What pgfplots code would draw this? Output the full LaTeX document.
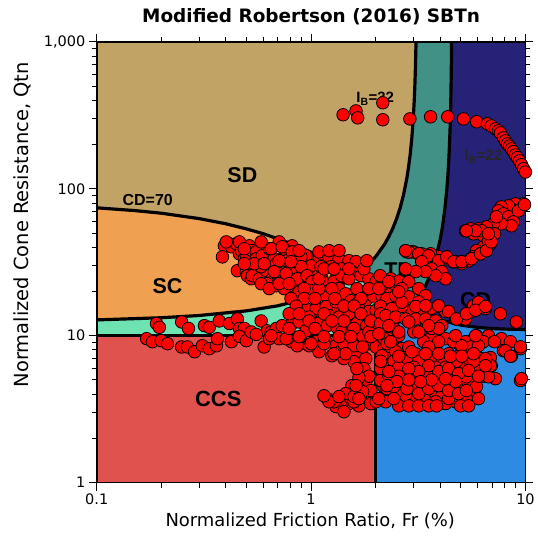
\documentclass[border=0pt]{standalone}
\usepackage{pgfplots}
\pgfplotsset{compat=1.18}
\usepackage{fontspec}
\setmainfont{DejaVu Sans}
\newfontfamily\labfont{Liberation Sans}
\definecolor{cSD}{RGB}{194,163,102}
\definecolor{cSC}{RGB}{239,160,80}
\definecolor{cTD}{RGB}{66,145,135}
\definecolor{cTC}{RGB}{110,226,176}
\definecolor{cCD}{RGB}{38,34,120}
\definecolor{cCC}{RGB}{45,140,225}
\definecolor{cCCS}{RGB}{224,82,77}
\pgfplotstableread{
F Q
1.41 319
1.62 339
1.65 304
2.16 385
2.16 295
2.89 299
3.61 309
4.34 309
5.14 299
5.92 286
6.65 277
6.93 268
7.25 256
7.48 248
7.64 240
7.89 222
8.06 212
8.24 202
8.42 195
8.6 187
8.78 179
8.97 170
9.17 163
9.37 155
9.58 146
9.79 137
10.0 130
9.79 79
9.27 76.5
8.97 79
8.6 73.1
8.33 76.5
7.72 75.3
7.48 70.8
7.89 67.6
8.33 64.5
8.78 59.6
8.6 56.0
7.72 57.8
7.09 57.8
6.58 55.1
6.04 53.4
5.55 53.4
5.25 51.8
5.85 51.8
6.72 49.4
5.72 49.4
6.37 47.9
6.93 45.7
6.93 43.5
6.86 42.2
6.37 40.2
6.58 37.9
5.91 37.9
6.17 36.1
5.72 34.5
5.6 33.4
5.43 32.3
5.04 30.9
5.04 31.9
4.72 31.9
4.62 31.9
4.29 33.4
4.29 34.4
3.94 34.5
3.94 32.4
3.61 36.1
3.54 35.0
3.28 36.1
3.18 36.1
3.01 37.2
2.95 37.2
2.86 37.2
2.80 37.2
2.76 37.9
9.27 70.8
9.9 78
7.32 64.5
6.24 51.8
7.17 49.4
6.72 44.1
0.394 40.9
0.386 34.4
0.416 42.2
0.425 40.3
0.448 42.2
0.463 36.1
0.473 37.9
0.488 33.4
0.499 35.0
0.515 40.9
0.532 37.9
0.555 37.2
0.555 33.4
0.591 35.0
0.638 39.1
0.453 27.7
0.499 27.3
0.504 25.6
0.526 24.4
0.532 25.6
0.573 24.4
0.618 27.7
0.659 24.4
0.673 33.4
0.688 22.6
0.688 21.9
0.733 23.3
0.790 21.9
0.852 22.6
0.899 24.4
0.979 29.5
0.899 32.0
0.790 29.5
0.733 33.4
0.688 30.9
0.816 40.9
0.733 40.3
0.880 35.0
0.947 35.0
1.01 29.5
1.089 33.4
1.125 24.4
1.213 21.9
1.307 24.4
1.125 36.1
0.765 37.9
0.834 36.1
0.710 26.4
0.624 22.6
0.862 27.7
0.928 20.9
1.033 26.4
0.585 29.5
0.773 32.4
0.543 30.9
0.488 30.9
0.604 30.9
0.880 30.9
0.585 22.6
0.880 22.6
0.979 22.6
1.067 22.6
0.402 43.5
0.463 43.5
0.585 43.5
0.710 43.5
0.488 39.1
0.749 20.9
0.638 20.9
0.190 12.1
0.196 11.4
0.249 12.4
0.268 11.2
0.318 11.7
0.335 11.4
0.373 12.6
0.416 12.1
0.453 13.0
0.463 11.2
0.488 11.2
0.585 12.6
0.624 10.8
0.652 10.6
0.688 11.2
0.733 11.7
0.816 12.1
0.880 12.4
0.947 10.8
1.055 14.6
1.112 15.3
1.125 13.0
1.213 13.6
1.307 14.6
0.171 9.54
0.182 9.1
0.200 9.25
0.214 8.82
0.249 8.38
0.265 8.38
0.286 7.78
0.311 8.54
0.335 8.16
0.362 8.54
0.366 9.54
0.425 9.1
0.463 9.9
0.499 9.25
0.526 10.6
0.555 10.2
0.604 8.38
0.638 9.54
0.710 9.54
0.81 9.1
0.899 9.1
1.055 9.1
1.174 9.1
1.307 8.54
0.89 8.82
1.38 7.9
1.535 8.16
1.62 7.78
1.74 8.54
1.80 6.98
1.764 5.97
1.70 4.5
1.62 4.23
1.55 4.57
1.80 4.87
1.82 4.03
1.80 3.62
1.672 3.33
1.502 3.45
1.38 3.33
1.307 3.29
1.19 3.73
1.423 3.04
1.585 3.55
1.279 3.55
1.672 4.36
1.861 5.3
1.585 6.65
1.423 6.98
1.25 7.3
1.089 7.78
0.979 8.54
1.861 8.82
1.213 3.55
1.149 3.9
1.45 4.03
1.585 3.85
1.70 3.9
1.35 3.85
1.90 4.23
1.90 3.45
1.672 5.2
1.636 5.97
0.652 39.1
0.733 40.3
0.816 37.2
0.899 34.4
1.0 29.9
1.089 37.2
1.213 34.4
1.35 33.4
1.502 32.4
1.62 31.9
1.38 28.5
1.24 29.5
1.112 29.5
0.899 29.5
0.806 31.9
0.710 32.4
0.673 27.3
0.765 26.4
0.862 24.4
0.958 25.6
1.01 23.3
1.125 23.7
1.279 23.3
1.39 25.6
1.55 27.3
1.71 25.6
1.861 24.4
2.01 23.3
2.14 22.6
2.26 21.6
0.710 22.6
0.790 22.6
0.880 19.9
1.01 20.2
1.174 18.7
1.35 20.9
1.45 19.3
1.535 17.3
1.636 16.5
1.80 17.3
1.963 18.4
2.14 18.7
2.35 19.3
2.432 16.9
2.305 15.3
2.38 13.7
2.35 12.4
2.432 11.2
2.305 9.54
2.432 8.38
2.48 7.54
0.947 15.3
1.055 15.3
1.174 15.8
1.307 17.0
1.213 13.7
1.35 13.4
1.502 14.1
1.672 15.3
1.861 14.6
2.01 14.9
0.979 13.4
1.075 12.1
1.19 11.7
1.32 11.4
1.47 11.7
1.636 12.1
1.82 11.7
2.03 11.7
2.14 11.2
1.39 10.6
1.55 10.6
1.73 10.0
1.861 10.6
0.652 10.0
0.765 9.54
0.862 8.54
1.0 8.82
1.149 8.82
1.423 8.82
1.585 8.54
1.74 8.38
2.01 8.38
2.23 7.78
1.45 7.54
1.279 7.54
0.928 20.9
1.089 20.9
1.25 20.9
1.636 20.9
1.861 20.9
2.071 20.9
0.806 17.9
0.928 17.9
1.044 17.9
1.293 17.9
1.71 17.9
2.26 17.9
0.852 15.9
1.423 15.9
1.585 15.9
2.11 15.9
0.79 14.1
0.88 14.1
1.149 14.1
1.71 14.1
2.11 14.1
0.979 12.6
1.25 12.6
1.423 12.6
1.90 12.6
0.79 11.2
1.044 11.2
1.585 11.2
0.88 9.85
1.149 9.85
1.35 9.85
1.535 9.85
1.90 9.85
1.502 24.4
2.35 24.4
1.089 24.4
1.149 28.5
1.279 28.5
1.502 28.5
1.764 28.5
1.82 32.4
0.88 37.9
1.213 37.9
1.35 37.9
2.432 22.6
2.6 19.3
2.1 25.6
2.185 9.54
2.185 8.16
2.26 6.98
2.38 5.97
2.23 5.3
2.185 4.5
2.305 3.9
2.23 3.62
2.51 4.03
2.48 4.71
2.65 5.7
2.707 6.65
2.65 8.16
2.11 12.1
2.071 10.3
2.26 8.82
2.11 5.97
2.11 4.95
2.35 4.95
2.565 10.0
3.012 10.6
3.42 11.2
3.65 9.85
4.24 9.54
4.877 8.82
5.6 9.25
5.91 10.0
6.72 10.0
7.72 9.54
8.51 9.1
9.48 8.16
7.89 7.9
8.6 7.25
7.24 5.1
9.48 4.95
4.382 7.54
4.877 7.25
5.25 6.7
5.724 6.55
6.17 6.98
6.51 6.45
6.93 6.25
6.86 7.1
2.14 7.3
2.48 7.78
2.856 8.16
3.08 7.54
3.42 7.1
3.81 7.9
4.07 6.6
4.53 6.25
5.04 5.97
5.43 5.7
6.04 5.8
6.37 5.3
5.6 4.79
5.04 4.57
4.53 4.36
4.07 4.79
3.65 5.1
3.28 5.3
2.95 5.7
2.65 5.97
2.38 6.25
2.305 5.3
2.565 4.87
2.856 4.57
3.178 4.16
3.65 4.03
4.07 3.9
4.53 4.03
5.04 3.9
5.43 4.16
4.72 3.55
4.24 3.45
3.81 3.55
3.42 3.62
3.08 3.73
2.76 3.9
2.48 4.09
2.26 4.36
2.565 3.33
2.23 3.55
1.74 4.16
1.62 4.57
1.672 3.73
2.01 3.55
2.35 9.1
3.352 9.1
3.937 9.1
4.621 9.1
5.25 9.1
6.37 9.1
7.17 9.1
2.856 8.38
3.537 8.38
5.55 8.38
2.11 6.7
2.432 6.7
2.856 6.7
3.178 6.7
3.61 6.7
4.77 6.7
5.724 6.7
2.565 6.1
3.012 6.1
3.81 6.1
4.24 6.1
2.8 5.25
3.537 5.25
4.77 5.25
5.3 5.25
6.72 5.25
2.432 4.5
3.012 4.5
3.352 4.5
4.24 4.5
4.77 4.5
5.91 4.5
2.071 3.73
2.432 3.73
3.352 3.73
4.382 3.73
5.3 3.73
6.04 3.73
2.856 3.33
3.178 3.33
3.537 3.33
3.85 3.33
4.98 3.33
5.43 3.33
2.856 37.2
3.178 36.1
3.537 35.0
3.937 32.4
4.29 34.4
4.621 31.9
5.04 31.9
5.6 33.4
6.17 36.1
6.58 37.9
6.93 43.5
6.72 49.4
5.85 51.8
5.3 51.8
2.565 23.5
2.856 23.3
3.178 20.9
3.42 18.7
3.937 15.8
4.24 14.6
4.72 13.0
5.25 13.0
5.6 14.6
5.724 16.0
6.04 16.9
6.51 15.3
7.64 14.1
9.07 12.4
3.28 31.9
3.65 28.5
4.07 27.3
4.24 24.4
3.81 25.6
3.42 27.3
3.08 27.3
2.76 28.5
2.65 20.9
2.48 18.7
2.856 18.4
3.178 17.0
3.61 15.3
3.28 14.6
2.95 14.9
2.65 15.8
2.38 15.3
2.23 13.7
2.48 13.4
2.76 13.0
3.08 13.0
3.42 13.0
3.81 12.6
4.07 11.7
3.65 11.2
2.76 37.9
8.06 7.9
8.51 7.25
9.48 8.4
9.58 5.1
6.86 6.25
6.51 6.98
6.04 8.54
5.85 10.0
5.04 8.54
4.72 10.0
3.937 11.2
3.537 11.7
3.178 10.6
2.856 12.4
2.565 10.6
2.305 11.7
2.65 16.9
3.08 15.8
3.42 16.0
3.937 16.0
4.382 14.6
4.77 13.0
5.3 14.1
5.85 14.9
6.51 15.8
2.8 4.36
3.178 4.03
3.537 4.36
3.937 4.57
4.382 4.23
4.877 4.03
5.3 4.23
3.937 5.7
4.382 5.97
4.877 5.52
5.43 5.8
6.04 5.3
6.51 6.25
3.537 6.25
3.178 5.7
2.856 5.97
2.565 5.3
2.305 5.7
2.565 7.25
2.95 7.78
3.42 7.54
3.937 7.54
4.47 7.25
5.04 7.25
5.724 7.54
4.72 4.87
4.24 5.1
3.65 5.0
3.24 4.87
2.856 5.0
2.51 4.87
2.26 4.57
2.305 23.3
2.565 19.9
}\pts
\begin{document}
\begin{tikzpicture}
\begin{axis}[
  scale only axis, width=430pt, height=442pt,
  xmode=log, ymode=log,
  xmin=0.1, xmax=10, ymin=1, ymax=1000,
  axis on top,
  xtick={0.1,1,10}, xticklabels={0.1,1,10},
  ytick={1,10,100,1000}, yticklabels={1,10,100,{1,000}},
  minor xtick={0.2,0.3,0.4,0.5,0.6,0.7,0.8,0.9,2,3,4,5,6,7,8,9},
  minor ytick={2,3,4,5,6,7,8,9,20,30,40,50,60,70,80,90,200,300,400,500,600,700,800,900},
  tick align=outside,
  major tick length=8pt, minor tick length=5pt,
  every tick/.style={black, line width=1pt},
  axis line style={black, line width=1.6pt},
  ticklabel style={font=\fontsize{14.5}{16}\selectfont},
  xlabel={Normalized Friction Ratio, Fr (\%)},
  ylabel={Normalized Cone Resistance, Qtn},
  xlabel style={font=\fontsize{18}{20}\selectfont, at={(axis description cs:0.498,-0.086)}, anchor=center},
  ylabel style={font=\fontsize{19.5}{21}\selectfont, at={(axis description cs:-0.174,0.585)}, anchor=center},
  title={Modified Robertson (2016) SBTn},
  title style={font=\bfseries\fontsize{18.5}{20}\selectfont, at={(axis description cs:0.5,1.043)}, anchor=center},
]
% regions
\addplot[fill=cSD, draw=none] coordinates {(0.1,1) (10,1) (10,1000) (0.1,1000)} -- cycle;
\addplot[fill=cSC, draw=none] coordinates {(0.1,74.2) (0.15,71.1) (0.2,68.2) (0.3,62.7) (0.4,57.8) (0.5,53.3) (0.6,49.4) (0.8,42.5) (1,37.0) (1.2,32.5) (1.4,28.8) (1.605,25.6) (1.4,22.46) (1.2,20.13) (1,18.24) (0.7,15.98) (0.5,14.76) (0.3,13.72) (0.2,13.25) (0.1,12.81)} -- cycle;
\addplot[fill=cTD, draw=none] coordinates {(1.605,25.6) (1.8,29.25) (2,34.44) (2.2,41.89) (2.3,47.0) (2.4,53.45) (2.5,62) (2.6,73.81) (2.7,91.2) (2.8,119.2) (2.85,140.9) (2.9,172.2) (2.95,221.4) (3.0,310) (3.03,408) (3.05,516.7) (3.07,704.5) (3.0863,1000) (4.5209,1000) (4.51,692) (4.5,540) (4.48,375) (4.45,257.1) (4.4,168.75) (4.35,125.6) (4.3,100) (4.2,71.05) (4.1,55.1) (4.0,45) (3.8,32.93) (3.6,25.96) (3.4,21.43) (3.2,18.24) (3.0,15.88) (2.95,15.38) (2.5,17.5) (2,21.2) (1.8,23.2)} -- cycle;
\addplot[fill=cTC, draw=none] coordinates {(0.1,10) (0.1,12.81) (0.2,13.25) (0.3,13.72) (0.5,14.76) (0.7,15.98) (1,18.24) (1.2,20.13) (1.4,22.46) (1.605,25.6) (1.8,23.2) (2,21.2) (2.5,17.5) (2.95,15.38) (2.8,14.06) (2.6,12.62) (2.4,11.44) (2.2,10.47) (2.0,9.64) (2.0,10)} -- cycle;
\addplot[fill=cCD, draw=none] coordinates {(4.5209,1000) (10,1000) (10,11.02) (8,11.09) (7,11.18) (6,11.38) (5,11.8) (4,12.8) (3.5,13.7) (2.95,15.38) (3.0,15.88) (3.2,18.24) (3.4,21.43) (3.6,25.96) (3.8,32.93) (4.0,45) (4.1,55.1) (4.2,71.05) (4.3,100) (4.35,125.6) (4.4,168.75) (4.45,257.1) (4.48,375) (4.5,540) (4.51,692)} -- cycle;
\addplot[fill=cCC, draw=none] coordinates {(2.0,1) (10,1) (10,11.02) (8,11.09) (7,11.18) (6,11.38) (5,11.8) (4,12.8) (3.5,13.7) (2.95,15.38) (2.8,14.06) (2.6,12.62) (2.4,11.44) (2.2,10.47) (2.0,9.64)} -- cycle;
\addplot[fill=cCCS, draw=none] coordinates {(0.1,1) (2,1) (2,10) (0.1,10)} -- cycle;
% boundaries
\addplot[black, line width=3.2pt] coordinates {(0.1,74.2) (0.15,71.1) (0.2,68.2) (0.3,62.7) (0.4,57.8) (0.5,53.3) (0.6,49.4) (0.8,42.5) (1,37.0) (1.2,32.5) (1.4,28.8) (1.605,25.6) (1.8,23.2) (2,21.2) (2.5,17.5) (2.95,15.38) (3.5,13.7) (4,12.8) (5,11.8) (6,11.38) (7,11.18) (8,11.09) (10,11.02)};
\addplot[black, line width=3.2pt] coordinates {(0.1,12.81) (0.2,13.25) (0.3,13.72) (0.5,14.76) (0.7,15.98) (1,18.24) (1.2,20.13) (1.4,22.46) (1.605,25.6) (1.8,29.25) (2,34.44) (2.2,41.89) (2.3,47.0) (2.4,53.45) (2.5,62) (2.6,73.81) (2.7,91.2) (2.8,119.2) (2.85,140.9) (2.9,172.2) (2.95,221.4) (3.0,310) (3.03,408) (3.05,516.7) (3.07,704.5) (3.0863,1000)};
\addplot[black, line width=3.2pt] coordinates {(2.0,9.64) (2.2,10.47) (2.4,11.44) (2.6,12.62) (2.8,14.06) (2.95,15.38) (3.0,15.88) (3.2,18.24) (3.4,21.43) (3.6,25.96) (3.8,32.93) (4.0,45) (4.1,55.1) (4.2,71.05) (4.3,100) (4.35,125.6) (4.4,168.75) (4.45,257.1) (4.48,375) (4.5,540) (4.51,692) (4.5209,1000)};
\addplot[black, line width=3.2pt] coordinates {(0.1,10) (2,10)};
\addplot[black, line width=3.2pt] coordinates {(2,1) (2,10)};
% labels
\node[font=\labfont\bfseries\fontsize{21.5}{24}\selectfont] at (axis cs:0.478,124) {SD};
\node[font=\labfont\bfseries\fontsize{21.5}{24}\selectfont] at (axis cs:0.214,21.9) {SC};
\node[font=\labfont\bfseries\fontsize{22}{24}\selectfont] at (axis cs:0.369,3.73) {CCS};
\node[font=\labfont\bfseries\fontsize{21.5}{24}\selectfont] at (axis cs:2.56,28) {TD};
\node[font=\labfont\bfseries\fontsize{21.5}{24}\selectfont] at (axis cs:4.5,3.7) {CC};
\node[font=\labfont\bfseries\fontsize{16}{18}\selectfont] at (axis cs:0.173,84) {CD=70};
\addplot[only marks, mark=*, mark size=6.3pt, mark options={fill=red, draw=black, line width=0.8pt}] table[x=F, y=Q] {\pts};
\node[font=\labfont\bfseries\fontsize{21.5}{24}\selectfont] at (axis cs:5.85,17.5) {CD};
\node[font=\labfont\bfseries\fontsize{15}{18}\selectfont] at (axis cs:1.99,410) {I\textsubscript{B}=32};
\node[font=\labfont\bfseries\fontsize{15}{18}\selectfont, text=black!85] at (axis cs:6.37,165) {I\textsubscript{B}=22};
\end{axis}
\path ([shift={(-97pt,-53pt)}]current axis.south west) rectangle ([shift={(11pt,42pt)}]current axis.north east);
\end{tikzpicture}
\end{document}
